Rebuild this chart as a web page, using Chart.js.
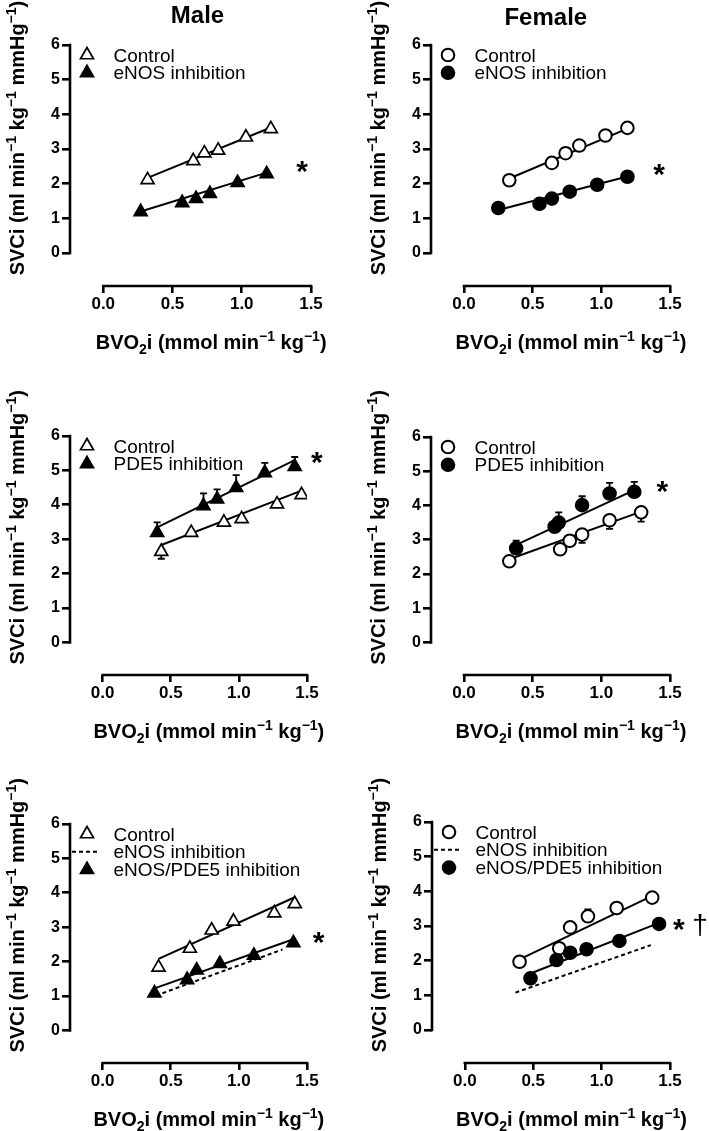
<!DOCTYPE html>
<html>
<head>
<meta charset="utf-8">
<script src="https://cdn.jsdelivr.net/npm/chart.js@4.4.1/dist/chart.umd.min.js"></script>
<style>
  body { margin: 0; background: #fff; }
  #wrap { position: relative; width: 709px; height: 1131px; }
  canvas { position: absolute; }
</style>
</head>
<body>
<div id="wrap">
  <canvas id="p1" width="355" height="375" style="left:0;top:0"></canvas>
  <canvas id="p2" width="354" height="375" style="left:355px;top:0"></canvas>
  <canvas id="p3" width="355" height="377" style="left:0;top:375px"></canvas>
  <canvas id="p4" width="354" height="377" style="left:355px;top:375px"></canvas>
  <canvas id="p5" width="355" height="379" style="left:0;top:752px"></canvas>
  <canvas id="p6" width="354" height="379" style="left:355px;top:752px"></canvas>
</div>
<script>
const xTicks = [0, 0.5, 1.0, 1.5];
const yTicks = [0, 1, 2, 3, 4, 5, 6];

// male, eNOS inhibition
const mEnosCtrlX = [0.32, 0.65, 0.73, 0.83, 1.03, 1.21];
const mEnosCtrlY = [2.11, 2.66, 2.88, 2.96, 3.34, 3.58];
const mEnosTrtX = [0.27, 0.57, 0.67, 0.77, 0.97, 1.18];
const mEnosTrtY = [1.19, 1.45, 1.57, 1.71, 2.03, 2.28];
const mEnosCtrlFitX = [0.32, 1.21], mEnosCtrlFitY = [2.17, 3.62];
const mEnosTrtFitX = [0.27, 1.18], mEnosTrtFitY = [1.20, 2.32];

// female, eNOS inhibition
const fEnosCtrlX = [0.33, 0.64, 0.74, 0.84, 1.03, 1.19];
const fEnosCtrlY = [2.10, 2.60, 2.88, 3.10, 3.39, 3.61];
const fEnosTrtX = [0.25, 0.55, 0.64, 0.77, 0.97, 1.19];
const fEnosTrtY = [1.30, 1.42, 1.57, 1.77, 1.97, 2.20];
const fEnosCtrlFitX = [0.33, 1.19], fEnosCtrlFitY = [2.15, 3.59];
const fEnosTrtFitX = [0.25, 1.19], fEnosTrtFitY = [1.24, 2.21];

// male, PDE5 inhibition
const mPdeCtrlX = [0.43, 0.65, 0.89, 1.02, 1.28, 1.46];
const mPdeCtrlY = [2.64, 3.19, 3.49, 3.59, 4.02, 4.29];
const mPdeCtrlErr = [0.21, 0, 0, 0, 0, 0];
const mPdeTrtX = [0.40, 0.74, 0.84, 0.98, 1.19, 1.41];
const mPdeTrtY = [3.19, 3.97, 4.16, 4.50, 4.93, 5.11];
const mPdeTrtErr = [0.30, 0.36, 0.29, 0.36, 0.29, 0.28];
const mPdeCtrlFitX = [0.43, 1.46], mPdeCtrlFitY = [2.83, 4.41];
const mPdeTrtFitX = [0.40, 1.41], mPdeTrtFitY = [3.34, 5.30];

// female, PDE5 inhibition
const fPdeCtrlX = [0.33, 0.70, 0.77, 0.86, 1.06, 1.29];
const fPdeCtrlY = [2.37, 2.72, 2.97, 3.15, 3.57, 3.80];
const fPdeCtrlErr = [0, 0, 0, 0.24, 0.25, 0.27];
const fPdeTrtX = [0.38, 0.66, 0.69, 0.86, 1.06, 1.24];
const fPdeTrtY = [2.75, 3.38, 3.50, 4.01, 4.35, 4.40];
const fPdeTrtErr = [0.22, 0, 0.30, 0.26, 0.31, 0.29];
const fPdeCtrlFitX = [0.33, 1.29], fPdeCtrlFitY = [2.43, 3.82];
const fPdeTrtFitX = [0.38, 1.24], fPdeTrtFitY = [2.85, 4.45];

// male, eNOS/PDE5 inhibition
const mComboCtrlX = [0.41, 0.64, 0.80, 0.96, 1.26, 1.41];
const mComboCtrlY = [1.83, 2.38, 2.91, 3.17, 3.41, 3.68];
const mComboTrtX = [0.38, 0.62, 0.69, 0.86, 1.11, 1.40];
const mComboTrtY = [1.08, 1.47, 1.75, 1.94, 2.18, 2.54];
const mComboCtrlFitX = [0.41, 1.41], mComboCtrlFitY = [2.08, 3.87];
const mComboTrtFitX = [0.38, 1.40], mComboTrtFitY = [1.22, 2.65];
const mComboEnosFitX = [0.39, 1.32], mComboEnosFitY = [1.01, 2.35];

// female, eNOS/PDE5 inhibition
const fComboCtrlX = [0.40, 0.69, 0.77, 0.90, 1.11, 1.37];
const fComboCtrlY = [1.97, 2.36, 2.96, 3.28, 3.52, 3.82];
const fComboCtrlErr = [0, 0, 0, 0.20, 0, 0];
const fComboTrtX = [0.48, 0.67, 0.77, 0.89, 1.13, 1.42];
const fComboTrtY = [1.49, 2.02, 2.23, 2.33, 2.57, 3.06];
const fComboCtrlFitX = [0.40, 1.37], fComboCtrlFitY = [2.04, 3.87];
const fComboTrtFitX = [0.48, 1.42], fComboTrtFitY = [1.63, 3.09];
const fComboEnosFitX = [0.37, 1.36], fComboEnosFitY = [1.08, 2.45];

const FONT = 'Arial, "Liberation Sans", Helvetica, sans-serif';
const xTitle = [['BVO'], ['2', 'sub'], ['i (mmol min'], ['\u22121', 'sup'], [' kg'], ['\u22121', 'sup'], [')']];
const yTitle = [['SVCi (ml min'], ['\u22121', 'sup'], [' kg'], ['\u22121', 'sup'], [' mmHg'], ['\u22121', 'sup'], [')']];

const TRI_R = 7.5, CIRC_R = 6.3;
const panels = {};

function pts(xs, ys) {
  return xs.map((x, i) => ({ x: x, y: ys[i] }));
}

function richWidth(ctx, parts) {
  let w = 0;
  parts.forEach(([t, k]) => {
    ctx.font = k ? 'bold 14px ' + FONT : 'bold 20px ' + FONT;
    w += ctx.measureText(t).width;
  });
  return w;
}

function drawRich(ctx, parts, x, y) {
  let cx = x;
  parts.forEach(([t, k]) => {
    ctx.font = k ? 'bold 14px ' + FONT : 'bold 20px ' + FONT;
    const dy = k === 'sup' ? -8 : (k === 'sub' ? 5 : 0);
    ctx.fillText(t, cx, y + dy);
    cx += ctx.measureText(t).width;
  });
}

function drawMarker(ctx, shape, filled, x, y) {
  ctx.beginPath();
  if (shape === 'triangle') {
    const r = TRI_R;
    ctx.moveTo(x, y - r);
    ctx.lineTo(x + 0.866 * r, y + 0.5 * r);
    ctx.lineTo(x - 0.866 * r, y + 0.5 * r);
    ctx.closePath();
    ctx.lineWidth = 1.7;
  } else {
    ctx.arc(x, y, CIRC_R, 0, Math.PI * 2);
    ctx.lineWidth = 2;
  }
  ctx.fillStyle = filled ? '#000' : '#fff';
  ctx.fill();
  ctx.strokeStyle = '#000';
  ctx.stroke();
}

function centeredGlyph(ctx, text, font, cx, cy) {
  ctx.font = font;
  ctx.textAlign = 'center';
  ctx.textBaseline = 'alphabetic';
  const m = ctx.measureText(text);
  ctx.fillText(text, cx, cy + (m.actualBoundingBoxAscent - m.actualBoundingBoxDescent) / 2);
}

const prismPlugin = {
  id: 'prism',
  beforeDatasetsDraw(chart) {
    const p = panels[chart.canvas.id];
    const xs = chart.scales.x, ys = chart.scales.y, ctx = chart.ctx;
    ctx.save();
    ctx.strokeStyle = '#000';
    ctx.lineWidth = 1.8;
    (p.errors || []).forEach(e => {
      e.x.forEach((xv, i) => {
        if (!e.err[i]) return;
        const px = xs.getPixelForValue(xv);
        const py0 = ys.getPixelForValue(e.y[i]);
        const py1 = ys.getPixelForValue(e.y[i] + e.dir * e.err[i]);
        ctx.beginPath();
        ctx.moveTo(px, py0);
        ctx.lineTo(px, py1);
        ctx.moveTo(px - 3.5, py1);
        ctx.lineTo(px + 3.5, py1);
        ctx.stroke();
      });
    });
    ctx.restore();
  },
  afterDraw(chart) {
    const p = panels[chart.canvas.id];
    const xs = chart.scales.x, ys = chart.scales.y, ctx = chart.ctx;
    const ca = chart.chartArea;
    ctx.save();
    // axis lines, only over the tick range
    ctx.strokeStyle = '#000';
    ctx.lineWidth = 2.6;
    ctx.lineCap = 'square';
    ctx.beginPath();
    ctx.moveTo(ca.left, ys.getPixelForValue(0));
    ctx.lineTo(ca.left, ys.getPixelForValue(6));
    ctx.moveTo(xs.getPixelForValue(0), ca.bottom);
    ctx.lineTo(xs.getPixelForValue(1.5), ca.bottom);
    ctx.stroke();

    ctx.fillStyle = '#000';
    ctx.textBaseline = 'alphabetic';
    ctx.textAlign = 'left';

    // x title
    const xw = richWidth(ctx, xTitle);
    drawRich(ctx, xTitle, xs.getPixelForValue(0.75) + 4 - xw / 2, ca.bottom + 63);

    // y title, rotated
    const yw = richWidth(ctx, yTitle);
    ctx.save();
    ctx.translate(ca.left - 46, ys.getPixelForValue(0) - 115);
    ctx.rotate(-Math.PI / 2);
    drawRich(ctx, yTitle, -yw / 2, 0);
    ctx.restore();

    // panel title
    if (p.title) {
      ctx.font = 'bold 24px ' + FONT;
      ctx.textAlign = 'center';
      ctx.fillText(p.title.text, p.title.x, p.title.y);
    }

    // legend
    p.legend.forEach((item, i) => {
      const base = ca.top + 16.5 + 17.8 * i;
      const my = base - 6.5;
      if (item.kind === 'dash') {
        ctx.save();
        ctx.setLineDash([4, 3]);
        ctx.lineWidth = 2;
        ctx.lineCap = 'butt';
        ctx.beginPath();
        ctx.moveTo(ca.left + 2, my);
        ctx.lineTo(ca.left + 28, my);
        ctx.stroke();
        ctx.restore();
      } else {
        drawMarker(ctx, p.shape, item.kind === 'filled', ca.left + 17, my);
      }
      ctx.fillStyle = '#000';
      ctx.font = '19px ' + FONT;
      ctx.textAlign = 'left';
      ctx.textBaseline = 'alphabetic';
      ctx.fillText(item.label, ca.left + 43.5, base);
    });

    // significance marks
    p.marks.forEach(m => {
      centeredGlyph(ctx, m.text, m.font, xs.getPixelForValue(m.x), ys.getPixelForValue(m.y));
    });
    ctx.restore();
  }
};

function buildPanel(id, p) {
  panels[id] = p;
  const circle = p.shape === 'circle';
  const marker = {
    pointStyle: p.shape,
    pointRadius: circle ? CIRC_R : TRI_R,
    pointHoverRadius: circle ? CIRC_R : TRI_R,
    pointBorderColor: '#000',
    pointBorderWidth: circle ? 2 : 1.7,
    showLine: false
  };
  const line = { showLine: true, pointRadius: 0, borderColor: '#000', borderWidth: 2, fill: false };
  const datasets = [
    Object.assign({ label: 'treated', data: pts(p.trtX, p.trtY), pointBackgroundColor: '#000', order: 0 }, marker),
    Object.assign({ label: 'Control', data: pts(p.ctrlX, p.ctrlY), pointBackgroundColor: '#fff', order: 1 }, marker),
    Object.assign({ label: 'Control fit', data: pts(p.ctrlFitX, p.ctrlFitY), order: 2 }, line),
    Object.assign({ label: 'treated fit', data: pts(p.trtFitX, p.trtFitY), order: 2 }, line)
  ];
  if (p.refFitX) {
    datasets.push(Object.assign({ label: 'eNOS inhibition', data: pts(p.refFitX, p.refFitY), order: 3, borderDash: [4, 3] }, line));
  }
  new Chart(document.getElementById(id), {
    type: 'scatter',
    data: { datasets: datasets },
    options: {
      responsive: false,
      animation: false,
      events: [],
      layout: { padding: p.pad },
      plugins: { legend: { display: false }, tooltip: { enabled: false } },
      scales: {
        x: {
          type: 'linear',
          min: -0.24,
          max: 1.5,
          afterBuildTicks: s => { s.ticks = xTicks.map(v => ({ value: v })); },
          afterFit: s => { s.height = 40; },
          border: { display: false },
          grid: { drawOnChartArea: false, drawTicks: true, tickLength: 7, lineWidth: 2.6, tickWidth: 2.6, color: '#000', tickColor: '#000' },
          ticks: {
            color: '#000', padding: 1, autoSkip: false, maxRotation: 0,
            font: { family: FONT, size: 17, weight: 'bold' },
            callback: v => Number(v).toFixed(1)
          }
        },
        y: {
          type: 'linear',
          min: -0.95,
          max: 6,
          afterBuildTicks: s => { s.ticks = yTicks.map(v => ({ value: v })); },
          afterFit: s => { s.width = 40; },
          border: { display: false },
          grid: { drawOnChartArea: false, drawTicks: true, tickLength: 8, lineWidth: 2.6, tickWidth: 2.6, color: '#000', tickColor: '#000' },
          ticks: {
            color: '#000', padding: 2, autoSkip: false,
            font: { family: FONT, size: 16, weight: 'bold' },
            callback: v => String(v)
          }
        }
      }
    },
    plugins: [prismPlugin]
  });
}

const STAR = 'bold 30px ' + FONT;

buildPanel('p1', {
  pad: { left: 30, top: 45, right: 44, bottom: 49 },
  title: { text: 'Male', x: 197.5, y: 23 },
  shape: 'triangle',
  ctrlX: mEnosCtrlX, ctrlY: mEnosCtrlY, trtX: mEnosTrtX, trtY: mEnosTrtY,
  ctrlFitX: mEnosCtrlFitX, ctrlFitY: mEnosCtrlFitY, trtFitX: mEnosTrtFitX, trtFitY: mEnosTrtFitY,
  legend: [{ kind: 'open', label: 'Control' }, { kind: 'filled', label: 'eNOS inhibition' }],
  marks: [{ text: '*', font: STAR, x: 1.436, y: 2.47 }]
});

buildPanel('p2', {
  pad: { left: 36, top: 45, right: 39, bottom: 49 },
  title: { text: 'Female', x: 190.8, y: 24.5 },
  shape: 'circle',
  ctrlX: fEnosCtrlX, ctrlY: fEnosCtrlY, trtX: fEnosTrtX, trtY: fEnosTrtY,
  ctrlFitX: fEnosCtrlFitX, ctrlFitY: fEnosCtrlFitY, trtFitX: fEnosTrtFitX, trtFitY: fEnosTrtFitY,
  legend: [{ kind: 'open', label: 'Control' }, { kind: 'filled', label: 'eNOS inhibition' }],
  marks: [{ text: '*', font: STAR, x: 1.42, y: 2.39 }]
});

buildPanel('p3', {
  pad: { left: 30, top: 61, right: 48, bottom: 37 },
  shape: 'triangle',
  ctrlX: mPdeCtrlX, ctrlY: mPdeCtrlY, trtX: mPdeTrtX, trtY: mPdeTrtY,
  ctrlFitX: mPdeCtrlFitX, ctrlFitY: mPdeCtrlFitY, trtFitX: mPdeTrtFitX, trtFitY: mPdeTrtFitY,
  errors: [{ x: mPdeTrtX, y: mPdeTrtY, err: mPdeTrtErr, dir: 1 }, { x: mPdeCtrlX, y: mPdeCtrlY, err: mPdeCtrlErr, dir: -1 }],
  legend: [{ kind: 'open', label: 'Control' }, { kind: 'filled', label: 'PDE5 inhibition' }],
  marks: [{ text: '*', font: STAR, x: 1.573, y: 5.37 }]
});

buildPanel('p4', {
  pad: { left: 36, top: 62, right: 39, bottom: 37 },
  shape: 'circle',
  ctrlX: fPdeCtrlX, ctrlY: fPdeCtrlY, trtX: fPdeTrtX, trtY: fPdeTrtY,
  ctrlFitX: fPdeCtrlFitX, ctrlFitY: fPdeCtrlFitY, trtFitX: fPdeTrtFitX, trtFitY: fPdeTrtFitY,
  errors: [{ x: fPdeTrtX, y: fPdeTrtY, err: fPdeTrtErr, dir: 1 }, { x: fPdeCtrlX, y: fPdeCtrlY, err: fPdeCtrlErr, dir: -1 }],
  legend: [{ kind: 'open', label: 'Control' }, { kind: 'filled', label: 'PDE5 inhibition' }],
  marks: [{ text: '*', font: STAR, x: 1.444, y: 4.53 }]
});

buildPanel('p5', {
  pad: { left: 30, top: 72, right: 48, bottom: 28 },
  shape: 'triangle',
  ctrlX: mComboCtrlX, ctrlY: mComboCtrlY, trtX: mComboTrtX, trtY: mComboTrtY,
  ctrlFitX: mComboCtrlFitX, ctrlFitY: mComboCtrlFitY, trtFitX: mComboTrtFitX, trtFitY: mComboTrtFitY,
  refFitX: mComboEnosFitX, refFitY: mComboEnosFitY,
  legend: [{ kind: 'open', label: 'Control' }, { kind: 'dash', label: 'eNOS inhibition' }, { kind: 'filled', label: 'eNOS/PDE5 inhibition' }],
  marks: [{ text: '*', font: STAR, x: 1.585, y: 2.69 }]
});

buildPanel('p6', {
  pad: { left: 37, top: 70, right: 39, bottom: 28 },
  shape: 'circle',
  ctrlX: fComboCtrlX, ctrlY: fComboCtrlY, trtX: fComboTrtX, trtY: fComboTrtY,
  ctrlFitX: fComboCtrlFitX, ctrlFitY: fComboCtrlFitY, trtFitX: fComboTrtFitX, trtFitY: fComboTrtFitY,
  refFitX: fComboEnosFitX, refFitY: fComboEnosFitY,
  errors: [{ x: fComboCtrlX, y: fComboCtrlY, err: fComboCtrlErr, dir: 1 }],
  legend: [{ kind: 'open', label: 'Control' }, { kind: 'dash', label: 'eNOS inhibition' }, { kind: 'filled', label: 'eNOS/PDE5 inhibition' }],
  marks: [{ text: '*', font: STAR, x: 1.565, y: 3.04 }, { text: '\u2020', font: '28px ' + FONT, x: 1.72, y: 3.04 }]
});
</script>
</body>
</html>
